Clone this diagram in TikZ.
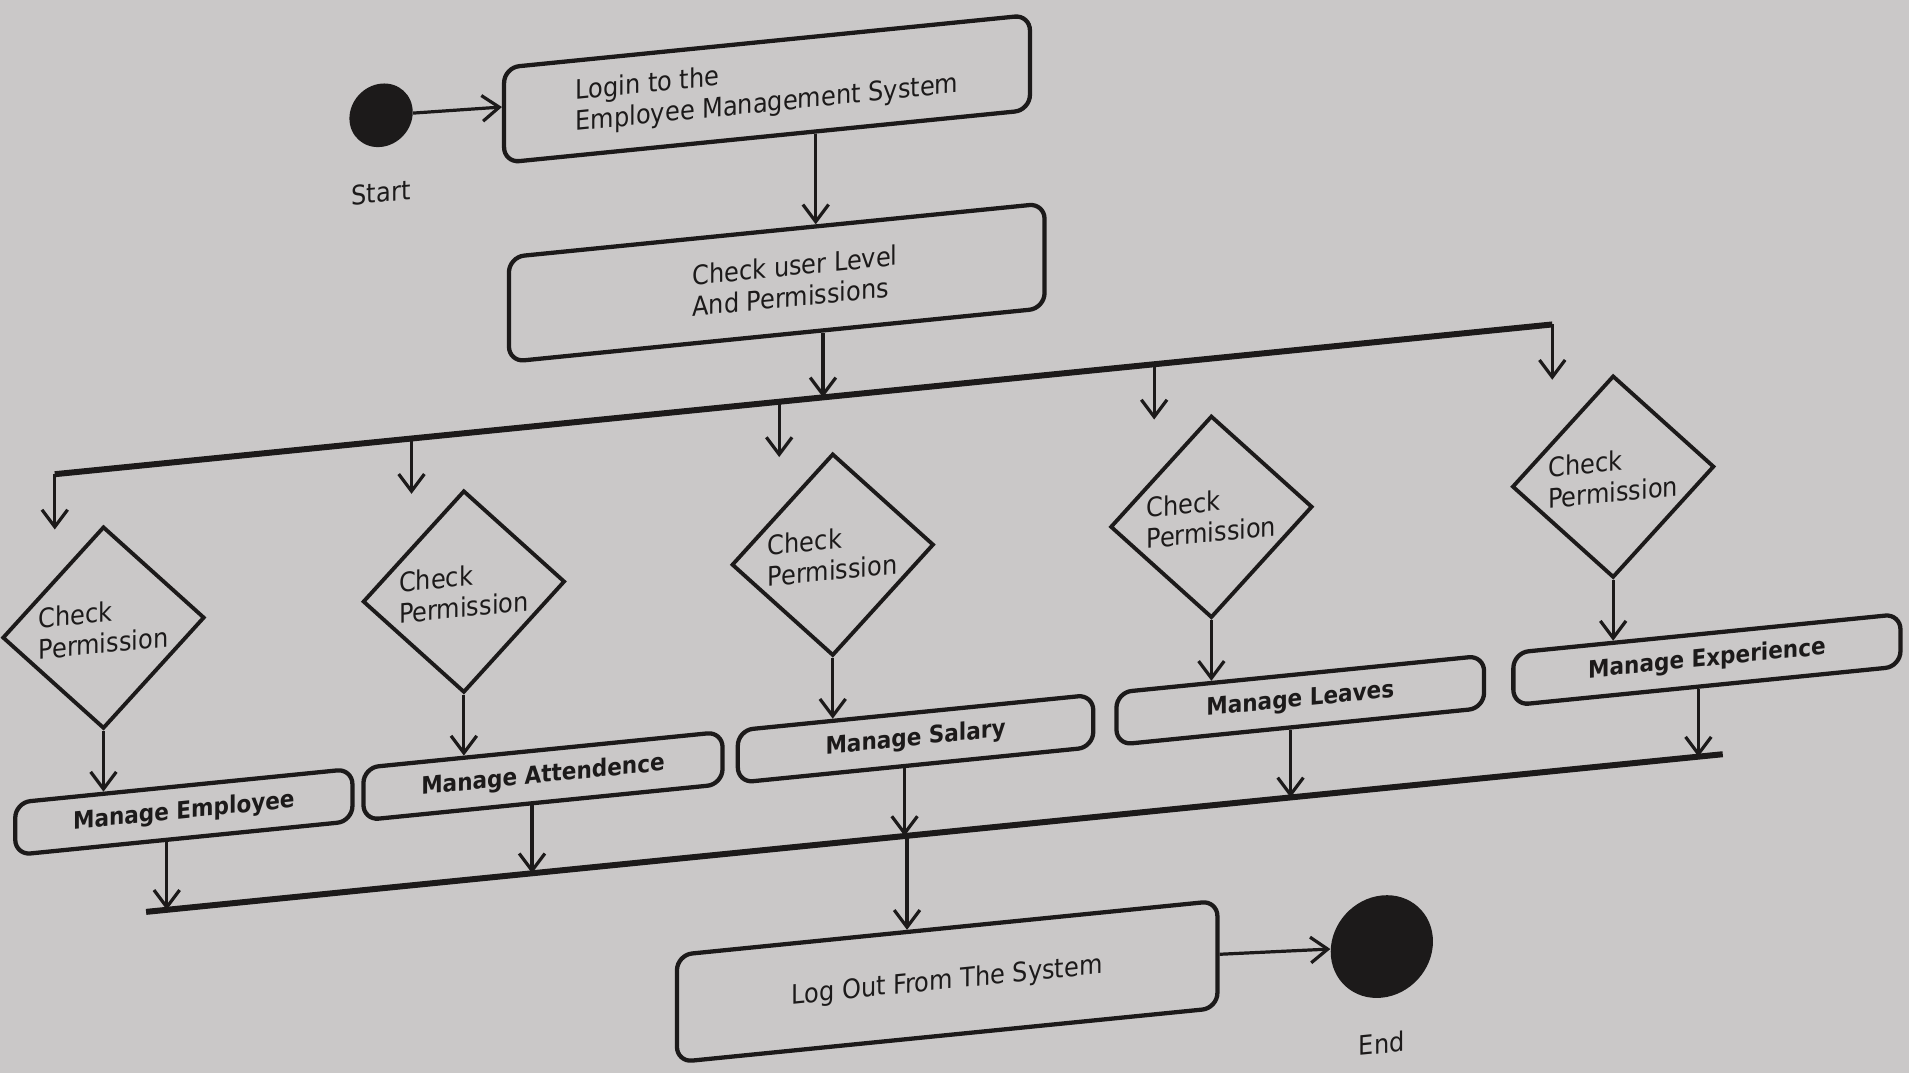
\documentclass[tikz,border=0pt]{standalone}
\usepackage{fontspec}
\setmainfont{DejaVu Sans Condensed}
\usetikzlibrary{shapes.geometric, arrows.meta, calc, positioning}

\definecolor{paper}{RGB}{202,200,200}
\definecolor{ink}{RGB}{28,26,26}

\begin{document}
\begin{tikzpicture}[x=0.02cm, y=-0.02cm, font=\fontsize{12.5}{14.5}\selectfont, text=ink]
        \tikzstyle{action} = [rectangle, rounded corners=0.25cm, draw=ink, line width=2pt, align=left]
        \tikzstyle{task} = [action, minimum height=0.86cm, font=\fontsize{11.2}{13}\selectfont\bfseries]
        \tikzstyle{decision} = [diamond, draw=ink, line width=1.8pt, inner sep=0pt, minimum width=3.32cm, minimum height=3.32cm, align=left]
        \tikzstyle{dot} = [circle, fill=ink, inner sep=0pt]
        \tikzstyle{flow} = [-{Straight Barb[length=8pt, width=12pt]}, line width=1.5pt, draw=ink]
        \tikzstyle{bar} = [line width=2.8pt, draw=ink]

\fill[paper] (0,0) rectangle (1568,881);
        \useasboundingbox (0,0) rectangle (1568,881);

% the photo is skewed: horizontal lines rise to the right
        \begin{scope}[yslant=0.1, transform shape]

\node[dot, minimum size=1.04cm] (start) at (313,126) {};
        \node[below=0.45cm of start] (startlabel) {Start};

\node[action, minimum width=8.64cm, minimum height=1.56cm] (login) at (630,136) {Login to the\\Employee Management System};
        \node[action, minimum width=8.8cm, minimum height=1.72cm] (check) at (638,296) {\hspace*{0.6cm}Check user Level\\\hspace*{0.6cm}And Permissions};

\node[decision] (perm1) at (85,524) {Check\\Permission};
        \node[decision] (perm2) at (381,524) {Check\\Permission};
        \node[decision] (perm3) at (684,524) {Check\\Permission};
        \node[decision] (perm4) at (995,524) {Check\\Permission};
        \node[decision] (perm5) at (1325,524) {Check\\Permission};

\node[task, minimum width=5.54cm] (employee) at (151,682) {Manage Employee};
        \node[task, minimum width=5.9cm] (attendence) at (446,682) {Manage Attendence};
        \node[task, minimum width=5.84cm] (salary) at (752,682) {Manage Salary};
        \node[task, minimum width=6.04cm] (leaves) at (1068,682) {Manage Leaves};
        \node[task, minimum width=6.36cm] (experience) at (1402,682) {Manage Experience};

\node[action, minimum width=8.88cm, minimum height=1.76cm] (logout) at (778,884) {Log Out From The System};
        \node[dot, minimum size=1.68cm] (end) at (1135,891) {};
        \node[below=0.45cm of end] (endlabel) {End};

% fork and join bars
        \coordinate (fork-l) at (45,394);
        \coordinate (fork-r) at (1275,394);
        \coordinate (fork-in) at (676,394);
        \coordinate (fork-2) at (338,394);
        \coordinate (fork-3) at (640,394);
        \coordinate (fork-4) at (948,394);
        \coordinate (join-l) at (120,761);
        \coordinate (join-r) at (1415,761);
        \coordinate (join-1) at (137,761);
        \coordinate (join-2) at (437,761);
        \coordinate (join-3) at (743,761);
        \coordinate (join-4) at (1060,761);
        \coordinate (join-5) at (1395,761);
        \coordinate (join-out) at (745,761);
        \coordinate (login-out) at ($(login.south)+(40,0)$);

\draw[flow] (start) -- (login);
        \draw[flow] (login-out) -- (login-out |- check.north);
        \draw[flow] (fork-in |- check.south) -- (fork-in);

\draw[bar] (fork-l) -- (fork-r);
        \draw[flow] (fork-l) -- (fork-l |- perm1.north);
        \draw[flow] (fork-2) -- (fork-2 |- perm2.north);
        \draw[flow] (fork-3) -- (fork-3 |- perm3.north);
        \draw[flow] (fork-4) -- (fork-4 |- perm4.north);
        \draw[flow] (fork-r) -- (fork-r |- perm5.north);

\draw[flow] (perm1.south) -- (perm1.south |- employee.north);
        \draw[flow] (perm2.south) -- (perm2.south |- attendence.north);
        \draw[flow] (perm3.south) -- (perm3.south |- salary.north);
        \draw[flow] (perm4.south) -- (perm4.south |- leaves.north);
        \draw[flow] (perm5.south) -- (perm5.south |- experience.north);

\draw[bar] (join-l) -- (join-r);
        \draw[flow] (join-1 |- employee.south) -- (join-1);
        \draw[flow] (join-2 |- attendence.south) -- (join-2);
        \draw[flow] (join-3 |- salary.south) -- (join-3);
        \draw[flow] (join-4 |- leaves.south) -- (join-4);
        \draw[flow] (join-5 |- experience.south) -- (join-5);

\draw[flow] (join-out) -- (join-out |- logout.north);
        \draw[flow] (logout.east) -- (end);

\end{scope}
    \end{tikzpicture}
\end{document}
